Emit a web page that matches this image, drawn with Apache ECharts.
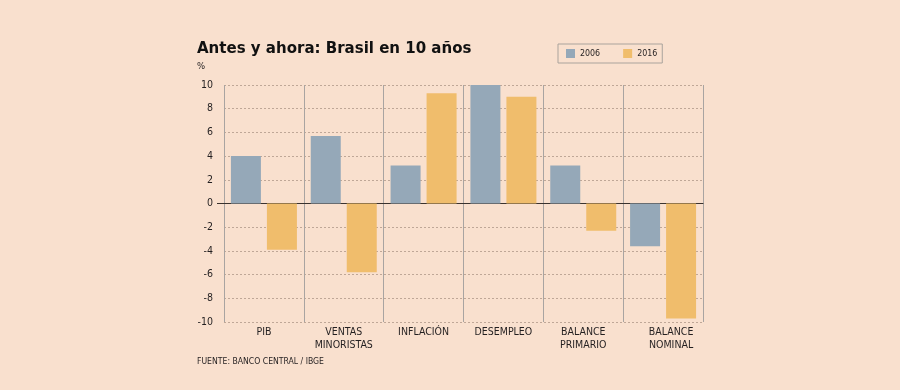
<!DOCTYPE html>
<html>
<head>
<meta charset="utf-8">
<script src="https://cdn.jsdelivr.net/npm/echarts@6/dist/echarts.min.js"></script>
<style>
html,body{margin:0;padding:0;background:#F9E0CE;}
#c{width:900px;height:390px;}
</style>
</head>
<body>
<div id="c"></div>
<script>
const categories = ['PIB', 'VENTAS\nMINORISTAS', 'INFLACIÓN', 'DESEMPLEO', 'BALANCE\nPRIMARIO', 'BALANCE\nNOMINAL'];
const seriesNames = ['2006', '2016'];
const values2006 = [4.0, 5.7, 3.2, 10.0, 3.2, -3.6];
const values2016 = [-3.9, -5.8, 9.3, 9.0, -2.3, -9.7];
const yMin = -10, yMax = 10, yStep = 2;

const FONT = '"DejaVu Sans Condensed", "DejaVu Sans", sans-serif';
const TXT = '#231f20';
const chart = echarts.init(document.getElementById('c'), null, {renderer: 'canvas'});

const option = {
  backgroundColor: '#F9E0CE',
  animation: false,
  textStyle: {fontFamily: FONT, color: TXT},
  title: [
    {text: 'Antes y ahora: Brasil en 10 años', left: 197, top: 40, padding: 0,
     textStyle: {fontFamily: FONT, fontSize: 16.7, fontWeight: 'bold', color: '#111'}},
    {text: '%', left: 197, top: 62, padding: 0,
     textStyle: {fontFamily: FONT, fontSize: 9.5, fontWeight: 'normal', color: TXT}},
    {text: 'FUENTE: BANCO CENTRAL / IBGE', left: 197, top: 357, padding: 0,
     textStyle: {fontFamily: FONT, fontSize: 8.6, fontWeight: 'normal', color: TXT}}
  ],
  legend: {
    data: seriesNames, left: 558, top: 44, itemWidth: 9, itemHeight: 9, itemGap: 23,
    icon: 'rect', borderColor: '#aaa39c', borderWidth: 1, padding: [5, 5, 5, 8],
    textStyle: {fontFamily: FONT, fontSize: 8.8, color: TXT}
  },
  grid: {left: 224, right: 197, top: 85, bottom: 68, containLabel: false},
  xAxis: {
    type: 'category',
    data: categories.map((c, i) => i === categories.length - 1
      ? {value: c, textStyle: {padding: [0, 0, 0, 16]}} : c),
    axisLine: {onZero: true, lineStyle: {color: '#3a322d', width: 1}},
    axisTick: {show: false},
    splitLine: {show: true, lineStyle: {color: '#a9a4a1', width: 1}},
    axisLabel: {fontFamily: FONT, fontSize: 10.5, color: TXT, lineHeight: 13, margin: 4, interval: 0}
  },
  yAxis: {
    type: 'value', min: yMin, max: yMax, interval: yStep,
    axisLine: {show: false}, axisTick: {show: false},
    splitLine: {lineStyle: {color: '#bfa797', type: [2, 2], width: 1}},
    axisLabel: {fontFamily: FONT, fontSize: 10.5, color: TXT, margin: 11}
  },
  series: [
    {name: seriesNames[0], type: 'bar', data: values2006, barWidth: 30, barGap: '20%',
     itemStyle: {color: '#95A8B8'}},
    {name: seriesNames[1], type: 'bar', data: values2016, barWidth: 30,
     itemStyle: {color: '#F0BD6C'}}
  ]
};
chart.setOption(option);

// extend the zero line a few pixels to the left of the plot area
const y0 = chart.convertToPixel({yAxisIndex: 0}, 0);
chart.setOption({
  graphic: [{type: 'line', shape: {x1: 217, y1: y0, x2: 224, y2: y0},
    style: {stroke: '#3a322d', lineWidth: 1}, z: 10}]
});
</script>
</body>
</html>
